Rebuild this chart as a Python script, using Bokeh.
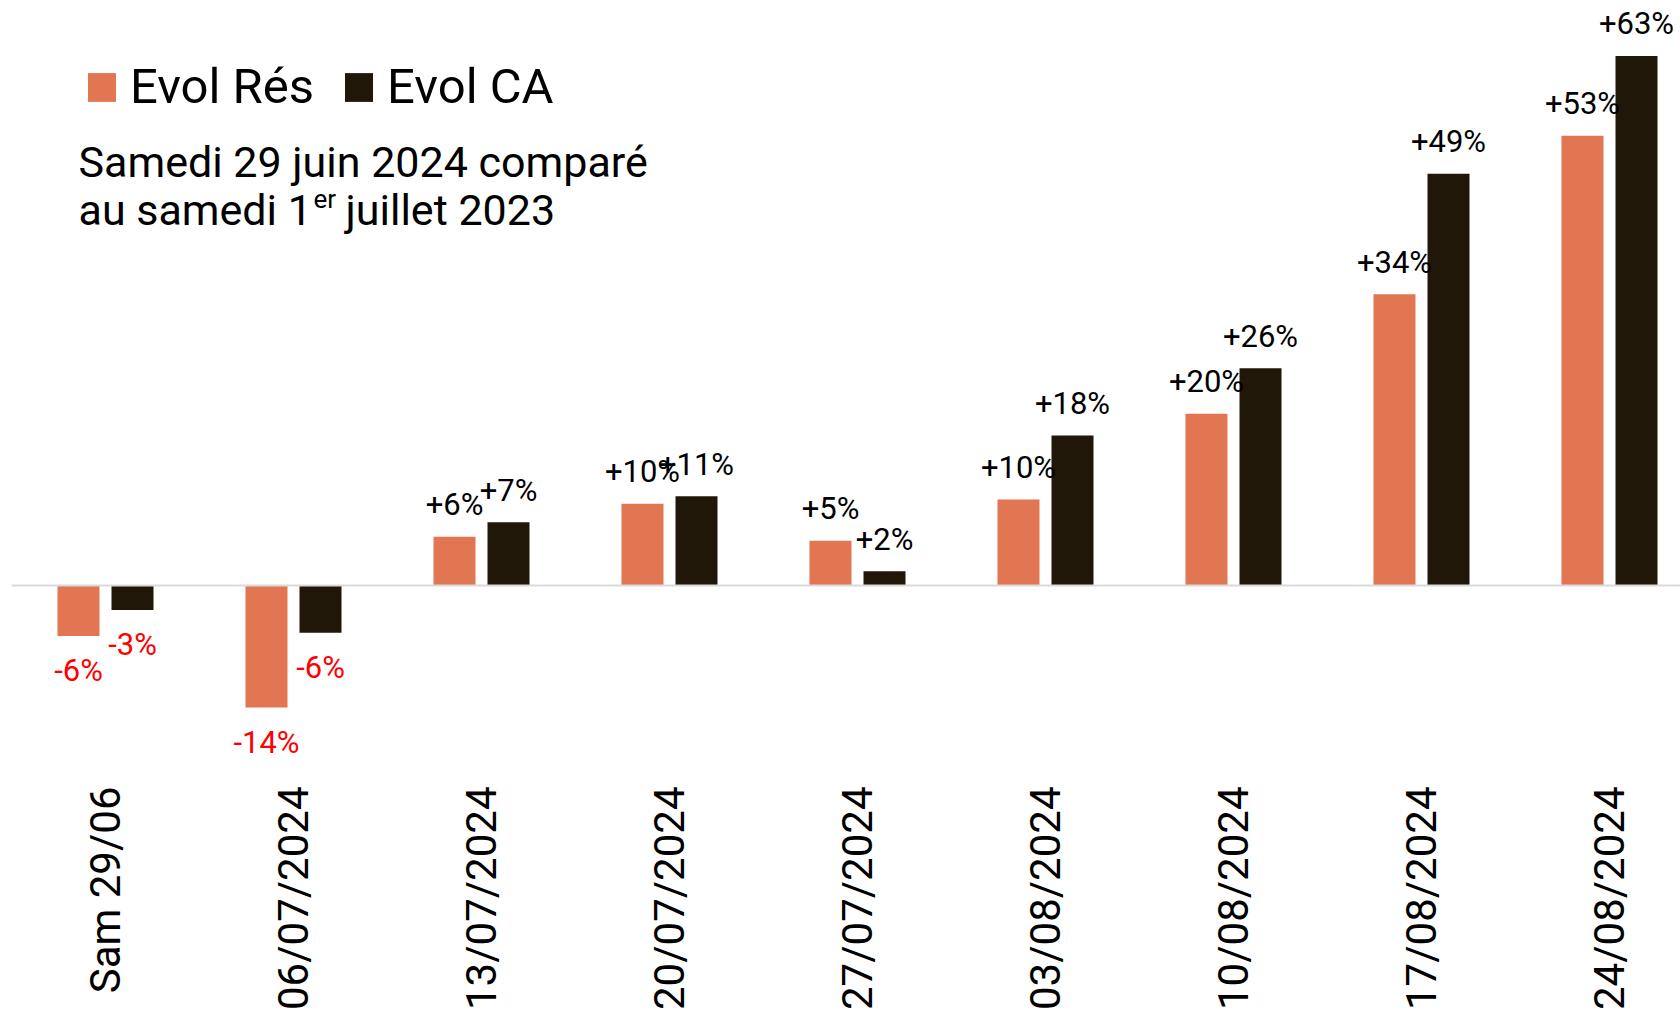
import math
from bokeh.plotting import figure
from bokeh.models import Range1d, Span, Label, FixedTicker, Legend, LegendItem, ColumnDataSource
from bokeh.core.properties import value
from bokeh.embed import file_html
from bokeh.resources import INLINE

# ---- data ----
categories = ["Sam 29/06", "06/07/2024", "13/07/2024", "20/07/2024", "27/07/2024",
              "03/08/2024", "10/08/2024", "17/08/2024", "24/08/2024"]
evol_res = [-6.0, -14.5, 5.8, 9.7, 5.3, 10.2, 20.4, 34.6, 53.4]
evol_ca = [-2.9, -5.6, 7.5, 10.6, 1.7, 17.8, 25.8, 48.9, 62.9]
labels_res = ["-6%", "-14%", "+6%", "+10%", "+5%", "+10%", "+20%", "+34%", "+53%"]
labels_ca = ["-3%", "-6%", "+7%", "+11%", "+2%", "+18%", "+26%", "+49%", "+63%"]
series_names = ["Evol Rés", "Evol CA"]

# ---- style ----
ORANGE = "#E27552"
DARK = "#211708"
FONT = "Roboto"

# layout constants (page pixels)
W, H = 1680, 1013
LEFT = 11
PX_PER_UNIT_X = 188.0
PX_PER_UNIT_Y = 8.42
X0_PAGE = 105.0    # page x of category 0
Y0_PAGE = 585.0    # page y of value 0
BAR_OFF = 0.1436
BAR_W = 0.2234

def dx(px):
    return (px - X0_PAGE) / PX_PER_UNIT_X

def dy(py):
    return (Y0_PAGE - py) / PX_PER_UNIT_Y

p = figure(width=W, height=H, output_backend="svg", toolbar_location=None,
           x_range=Range1d(dx(LEFT), dx(W)), y_range=Range1d(dy(H), dy(0)),
           min_border_left=LEFT, min_border_right=0, min_border_top=0, min_border_bottom=0,
           y_axis_type=None)
p.outline_line_color = None
p.xgrid.visible = False
p.ygrid.visible = False
p.background_fill_color = "white"
p.border_fill_color = "white"

idx = list(range(len(categories)))
x_res = [i - BAR_OFF for i in idx]
x_ca = [i + BAR_OFF for i in idx]

p.add_layout(Span(location=0, dimension="width", line_color="#D9D9D9", line_width=2), "center")

r1 = p.vbar(x=x_res, top=evol_res, bottom=0, width=BAR_W, fill_color=ORANGE, line_color=None)
r2 = p.vbar(x=x_ca, top=evol_ca, bottom=0, width=BAR_W, fill_color=DARK, line_color=None)

# value labels
def add_labels(xs, vals, texts):
    pos = [(x, v, t) for x, v, t in zip(xs, vals, texts) if v >= 0]
    neg = [(x, v, t) for x, v, t in zip(xs, vals, texts) if v < 0]
    if pos:
        src = ColumnDataSource(dict(x=[a[0] for a in pos], y=[a[1] for a in pos], t=[a[2] for a in pos]))
        p.text(x="x", y="y", text="t", source=src, text_align="center", text_baseline="alphabetic",
               y_offset=-32, text_font=value(FONT), text_font_size="31px", text_color="#000000")
    if neg:
        src = ColumnDataSource(dict(x=[a[0] for a in neg], y=[a[1] for a in neg], t=[a[2] for a in neg]))
        p.text(x="x", y="y", text="t", source=src, text_align="center", text_baseline="top",
               y_offset=16, text_font=value(FONT), text_font_size="31px", text_color="#FF0000")

add_labels(x_res, evol_res, labels_res)
add_labels(x_ca, evol_ca, labels_ca)

# x axis
ax = p.xaxis[0]
ax.ticker = FixedTicker(ticks=idx)
ax.major_label_overrides = {i: c for i, c in zip(idx, categories)}
ax.major_label_orientation = math.pi / 2
ax.major_label_text_font = FONT
ax.major_label_text_font_size = "42px"
ax.major_label_text_color = "#000000"
ax.axis_line_color = None
ax.major_tick_line_color = None
ax.minor_tick_line_color = None
ax.major_label_standoff = 18
ax.fixed_location = dy(762)

# legend
legend = Legend(items=[LegendItem(label=series_names[0], renderers=[r1]),
                       LegendItem(label=series_names[1], renderers=[r2])],
                orientation="horizontal", location=(73, 898),
                glyph_width=35, glyph_height=36, label_standoff=11, spacing=27,
                padding=0, margin=0, border_line_color=None, background_fill_alpha=0,
                label_text_font=FONT, label_text_font_size="49px", label_text_color="#000000")
p.add_layout(legend)

# subtitle
def sub(text, x, y, size):
    p.add_layout(Label(x=dx(x), y=dy(y), text=text, text_font=FONT, text_font_size=size,
                       text_baseline="alphabetic", text_color="#000000"))

sub("Samedi 29 juin 2024 comparé", 78, 161, "43px")
sub("au samedi 1", 78, 209, "43px")
sub("er", 313, 198, "26px")
sub("juillet 2023", 345, 209, "43px")

open("out.html", "w").write(file_html(p, INLINE))
